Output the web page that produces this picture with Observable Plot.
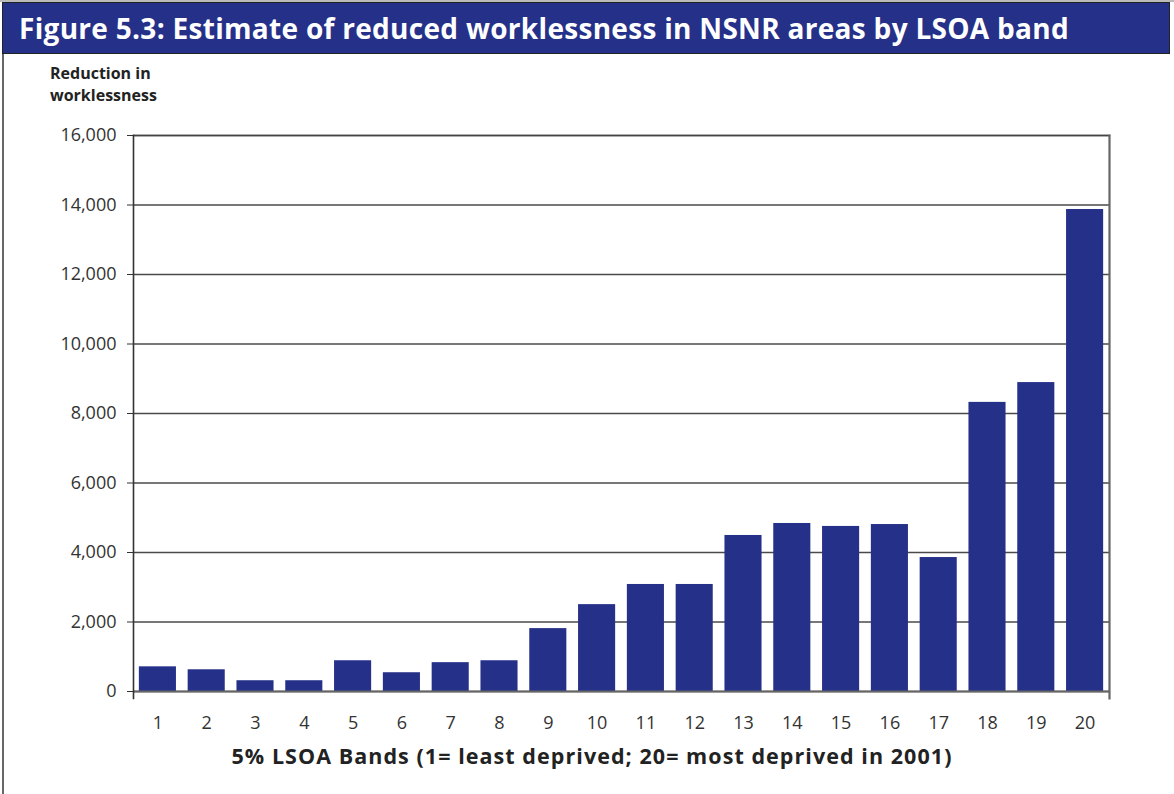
<!DOCTYPE html>
<html>
<head>
<meta charset="utf-8">
<script src="https://cdn.jsdelivr.net/npm/d3@7"></script>
<script src="https://cdn.jsdelivr.net/npm/@observablehq/plot@0.6"></script>
<style>
  html, body { margin: 0; padding: 0; background: #fff; }
  #page { position: relative; width: 1174px; height: 794px; overflow: hidden; }
  #topline { position: absolute; left: 0; top: 0; width: 1174px; height: 2px; background: #bbb; }
  #title { position: absolute; left: 2px; top: 2px; width: 1168px; height: 52px; background: #253189;
    border: 1px solid #222; box-sizing: border-box; color: #fff; font-family: "Open Sans", sans-serif;
    font-weight: 700; font-size: 28px; line-height: 50px; padding-left: 16px; white-space: nowrap; }
  #leftline { position: absolute; left: 2px; top: 54px; width: 1.5px; height: 740px; background: #666; }
  #ylabel { position: absolute; left: 50px; top: 62px; font-family: "Open Sans", sans-serif; font-weight: 700;
    font-size: 16px; line-height: 22px; color: #222; }
  #xlabel { position: absolute; left: 0; width: 1184px; top: 741px; text-align: center; font-family: "Open Sans", sans-serif;
    font-weight: 700; font-size: 21.5px; color: #222; white-space: nowrap; }
  #chart { position: absolute; left: 0; top: 110px; }
</style>
</head>
<body>
<div id="page">
  <div id="topline"></div>
  <div id="title"><span id="titletext">Figure 5.3: Estimate of reduced worklessness in NSNR areas by LSOA band</span></div>
  <div id="leftline"></div>
  <div id="ylabel">Reduction in<br>worklessness</div>
  <div id="chart"></div>
  <div id="xlabel"><span id="xlabeltext">5% LSOA Bands (1= least deprived; 20= most deprived in 2001)</span></div>
</div>
<script>
const bands = ["1","2","3","4","5","6","7","8","9","10","11","12","13","14","15","16","17","18","19","20"];
const reduction = [710, 625, 310, 310, 885, 540, 830, 885, 1810, 2500, 3080, 3080, 4490, 4835, 4750, 4805, 3855, 8320, 8890, 13870];
const yTicks = [0, 2000, 4000, 6000, 8000, 10000, 12000, 14000, 16000];

const data = bands.map((b, i) => ({band: b, value: reduction[i]}));

const chart = Plot.plot({
  width: 1174,
  height: 684,
  marginLeft: 133,
  marginRight: 65,
  marginTop: 25,
  marginBottom: 103,
  style: {fontFamily: "'Open Sans', sans-serif", background: "transparent", overflow: "visible"},
  x: {type: "band", domain: bands, paddingInner: 0.24, paddingOuter: 0.12, round: false, axis: null},
  y: {domain: [0, 16000], axis: null},
  marks: [
    Plot.gridY(yTicks, {stroke: "#4a4a4a", strokeOpacity: 1, strokeWidth: 1.3}),
    Plot.barY(data, {x: "band", y: "value", fill: "#253189"}),
    Plot.ruleY([0], {stroke: "#666", strokeWidth: 2.2}),
    Plot.frame({anchor: "top", stroke: "#444", strokeWidth: 1.6}),
    Plot.frame({anchor: "left", stroke: "#333", strokeWidth: 1.6, insetBottom: -7}),
    Plot.frame({anchor: "right", stroke: "#666", strokeWidth: 2.2, insetBottom: -7}),
    Plot.axisY({ticks: yTicks, tickFormat: d3.format(","), tickSize: 6, tickPadding: 11, fontSize: 18,
      fill: "#333", stroke: "#333", label: null}),
    Plot.axisX({tickSize: 0, tickPadding: 25, fontSize: 18, fill: "#333", label: null})
  ]
});
document.getElementById("chart").appendChild(chart);

function fit(id, target) {
  const el = document.getElementById(id);
  const w = el.getBoundingClientRect().width;
  const n = el.textContent.length;
  el.style.letterSpacing = ((target - w) / n) + "px";
}
fit("titletext", 1050);
fit("xlabeltext", 721);
</script>
</body>
</html>
